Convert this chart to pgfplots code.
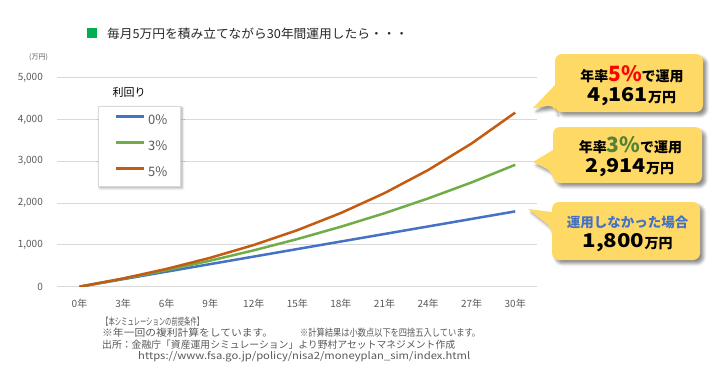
\documentclass[border=0pt]{standalone}
\usepackage{fontspec}
\setmainfont{Noto Sans CJK JP}
\usepackage{graphicx}
\usepackage{pgfplots}
\pgfplotsset{compat=1.18}
\usetikzlibrary{shadows.blur}
\definecolor{c0}{HTML}{4472C4}
\definecolor{c3}{HTML}{70AD47}
\definecolor{c5}{HTML}{C55A11}
\definecolor{gridc}{HTML}{D9D9D9}
\definecolor{tgray}{HTML}{595959}
\definecolor{callout}{HTML}{FFD966}
\definecolor{tgreen}{HTML}{548235}
\definecolor{sqgreen}{HTML}{00B050}
\definecolor{tred}{HTML}{FF0000}
\newcommand{\fs}[1]{\fontsize{#1bp}{#1bp}\selectfont}
\begin{document}
\begin{tikzpicture}
\useasboundingbox (0,0) rectangle (714bp,-383bp);
\begin{axis}[
  at={(57bp,-286.7bp)}, anchor=south west,
  scale only axis, width=480bp, height=209.2bp,
  xmin=-1.55, xmax=31.5, ymin=0, ymax=5000,
  axis line style={draw=none},
  major tick length=0pt,
  ymajorgrids, grid style={gridc, line width=0.8bp},
  xtick={0,3,6,9,12,15,18,21,24,27,30},
  xticklabels={0年,3年,6年,9年,12年,15年,18年,21年,24年,27年,30年},
  ytick={0,1000,2000,3000,4000,5000},
  /pgf/number format/1000 sep={,},
  /pgf/number format/assume math mode=true,
  tick label style={font=\fs{10}, text=tgray},
  x tick label style={anchor=center, yshift=-16.5bp},
  y tick label style={anchor=east, inner sep=0pt, xshift=-14bp},
  legend cell align=left,
  legend image code/.code={\draw[#1, line width=3bp] (0bp,3bp) -- (28bp,3bp);},
  legend style={at={(0.0854,0.8638)}, anchor=north west, draw=none, fill=none,
    inner xsep=16bp, inner ysep=9bp, row sep=16.5bp, column sep=3bp,
    font=\fs{13}, text=tgray,
    nodes={inner sep=0pt, text height=9.5bp, text depth=0bp}},
]
\addplot[c0, line width=2.5bp] coordinates {(0,0)(3,180)(6,360)(9,540)(12,720)(15,900)(18,1080)(21,1260)(24,1440)(27,1620)(30,1800)};
\addplot[c3, line width=2.5bp] coordinates {(0,0)(3,189)(6,396)(9,622)(12,869)(15,1139)(18,1434)(21,1756)(24,2109)(27,2493)(30,2914)};
\addplot[c5, line width=2.5bp] coordinates {(0,0)(3,197)(6,426)(9,691)(12,997)(15,1351)(18,1762)(21,2237)(24,2787)(27,3424)(30,4161)};
\legend{0\%,3\%,5\%}
\draw[gridc, fill=white, blur shadow={shadow xshift=2bp, shadow yshift=-2bp, shadow blur radius=2.5bp, shadow opacity=35}]
  (rel axis cs:0.0854,0.8638) rectangle (rel axis cs:0.25625,0.4814);
\end{axis}
\begin{scope}[x=1bp,y=-1bp]
% title
\fill[sqgreen] (87,28) rectangle (97,38);
\node[anchor=base west, inner sep=0pt, font=\fs{12.5}, text=black!85] at (107,39) {\resizebox{301bp}{\height}{毎月5万円を積み立てながら30年間運用したら・・・}};
\node[font=\fs{7}, text=tgray, inner sep=0pt] at (38.5,57) {(万円)};
% legend title
\node[anchor=base, font=\fs{11}, inner sep=0pt] at (129,96) {利回り};
% callouts
\tikzset{cshadow/.style={blur shadow={shadow xshift=3.5bp, shadow yshift=-3.5bp, shadow blur radius=3bp, shadow opacity=45}}}
\fill[callout, cshadow] (630,54) [rounded corners=7bp] -- (703,54) -- (703,112) -- (555,112) -- (555,105) [sharp corners] -- (533,108) -- (555,85) [rounded corners=7bp] -- (555,54) -- cycle;
\fill[callout, cshadow] (630,127) [rounded corners=7bp] -- (702,127) -- (702,183) -- (553,183) -- (553,172) [sharp corners] -- (533,162) -- (553,150) [rounded corners=7bp] -- (553,127) -- cycle;
\fill[callout, cshadow] (630,202) [rounded corners=7bp] -- (700,202) -- (700,260) -- (552,260) -- (552,228) [sharp corners] -- (528,209) -- (552,212) [rounded corners=7bp] -- (552,202) -- cycle;
% callout texts
\node[anchor=base, inner sep=0pt, font=\fs{14}\bfseries] at (632,81) {年率{\fs{21}\color{tred}5\%}で運用};
\node[anchor=base, inner sep=0pt, font=\fs{14}\bfseries] at (632,102) {\resizebox{60bp}{\height}{\fs{19}\bfseries 4,161}万円};
\node[anchor=base, inner sep=0pt, font=\fs{14}\bfseries] at (630.5,152) {年率{\fs{21}\color{tgreen}3\%}で運用};
\node[anchor=base, inner sep=0pt, font=\fs{14}\bfseries] at (630,173) {\resizebox{60bp}{\height}{\fs{19}\bfseries 2,914}万円};
\node[anchor=base, inner sep=0pt, font=\fs{13.5}\bfseries, text=c0] at (627.5,227) {運用しなかった場合};
\node[anchor=base, inner sep=0pt, font=\fs{14}\bfseries] at (627.5,248) {\resizebox{62bp}{\height}{\fs{19}\bfseries 1,800}万円};
% footer
\begin{scope}[every node/.style={anchor=base west, inner sep=0pt, font=\fs{10}, text=tgray}]
\node at (102,325) {\resizebox{101bp}{\height}{【本シミュレーションの前提条件】}};
\node at (102,336.5) {\resizebox{171bp}{\height}{※年一回の複利計算をしています。}};
\node at (300,336.5) {\resizebox{180bp}{\height}{※計算結果は小数点以下を四捨五入しています。}};
\node at (102,348.5) {\resizebox{353bp}{\height}{出所：金融庁「資産運用シミュレーション」より野村アセットマネジメント作成}};
\node at (138,360) {\resizebox{332bp}{\height}{https://www.fsa.go.jp/policy/nisa2/moneyplan\_sim/index.html}};
\end{scope}
\end{scope}
\end{tikzpicture}
\end{document}
